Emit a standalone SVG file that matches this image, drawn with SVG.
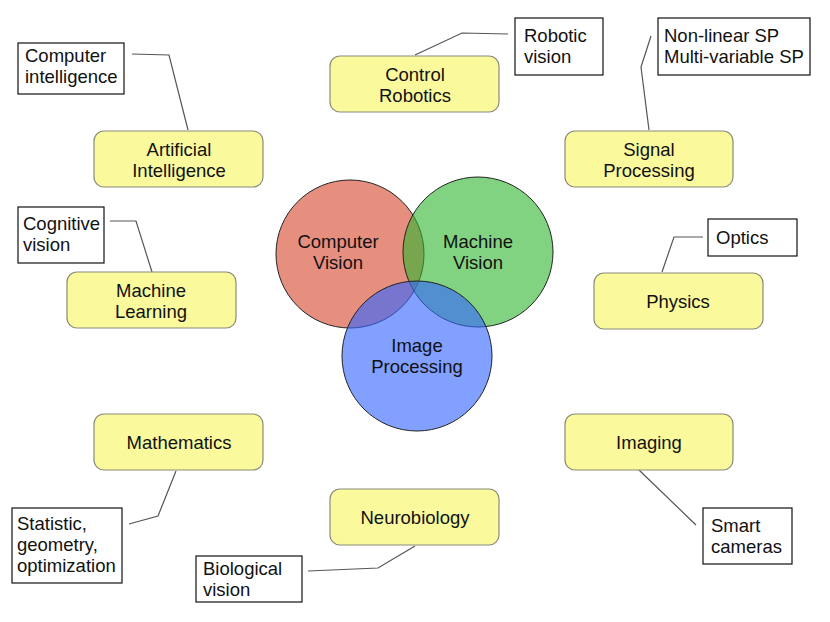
<svg xmlns="http://www.w3.org/2000/svg" width="830" height="622" viewBox="0 0 830 622">
<style>
text{font-family:"Liberation Sans",Arial,sans-serif;font-size:18.5px;fill:#111}
.c{text-anchor:middle}
.y{fill:#FAFA9C;stroke:#8a8a7a;stroke-width:1.2}
.w{fill:#fff;stroke:#111;stroke-width:1.2}
.ln{fill:none;stroke:#555;stroke-width:1.2}
.ci{stroke:#222;stroke-width:1}
</style>
<rect width="830" height="622" fill="#fff"/>
<g id="connectors">
<polyline class="ln" points="132,54 169,55 188,130"/>
<polyline class="ln" points="508,34 462,33 415,55"/>
<polyline class="ln" points="651,36 641,67 649,130"/>
<polyline class="ln" points="110,221 136,221 152,272"/>
<polyline class="ln" points="703,237 674,237 662,272"/>
<polyline class="ln" points="129,524 158,516 176,471"/>
<polyline class="ln" points="308,571 378,568 415,546"/>
<polyline class="ln" points="696,525 639,470"/>
</g>
<g id="venn">
<circle class="ci" cx="350" cy="254" r="74" fill="#D6442A" fill-opacity="0.6"/>
<circle class="ci" cx="478" cy="252" r="75" fill="#2DB52D" fill-opacity="0.6"/>
<circle class="ci" cx="417" cy="356" r="75" fill="#3366FF" fill-opacity="0.62"/>
<text class="c" x="338" y="248">Computer</text>
<text class="c" x="338" y="269">Vision</text>
<text class="c" x="478" y="248">Machine</text>
<text class="c" x="478" y="269">Vision</text>
<text class="c" x="417" y="352">Image</text>
<text class="c" x="417" y="373">Processing</text>
</g>
<g id="control-robotics"><rect class="y" x="330" y="56" width="169" height="56" rx="10"/><text class="c" x="415" y="81">Control</text><text class="c" x="415" y="102">Robotics</text></g>
<g id="artificial-intelligence"><rect class="y" x="94" y="131" width="169" height="56" rx="10"/><text class="c" x="179" y="156">Artificial</text><text class="c" x="179" y="177">Intelligence</text></g>
<g id="signal-processing"><rect class="y" x="565" y="131" width="168" height="56" rx="10"/><text class="c" x="649" y="156">Signal</text><text class="c" x="649" y="177">Processing</text></g>
<g id="machine-learning"><rect class="y" x="67" y="272" width="169" height="56" rx="10"/><text class="c" x="151" y="297">Machine</text><text class="c" x="151" y="318">Learning</text></g>
<g id="physics"><rect class="y" x="594" y="273" width="169" height="56" rx="10"/><text class="c" x="678" y="308">Physics</text></g>
<g id="mathematics"><rect class="y" x="94" y="414" width="169" height="56" rx="10"/><text class="c" x="179" y="449">Mathematics</text></g>
<g id="imaging"><rect class="y" x="565" y="414" width="168" height="56" rx="10"/><text class="c" x="649" y="449">Imaging</text></g>
<g id="neurobiology"><rect class="y" x="330" y="489" width="169" height="56" rx="10"/><text class="c" x="415" y="524">Neurobiology</text></g>
<g id="computer-intelligence"><rect class="w" x="18" y="43" width="106" height="51"/><text x="25" y="62">Computer</text><text x="25" y="83">intelligence</text></g>
<g id="robotic-vision"><rect class="w" x="515" y="18" width="88" height="57"/><text x="524" y="42">Robotic</text><text x="524" y="63">vision</text></g>
<g id="sp-variants"><rect class="w" x="658" y="18" width="152" height="57"/><text x="664" y="42">Non-linear SP</text><text x="664" y="63">Multi-variable SP</text></g>
<g id="cognitive-vision"><rect class="w" x="18" y="207" width="86" height="56"/><text x="23" y="230">Cognitive</text><text x="23" y="251">vision</text></g>
<g id="optics"><rect class="w" x="708" y="219" width="89" height="37"/><text x="716" y="244">Optics</text></g>
<g id="statistic"><rect class="w" x="12" y="508" width="110" height="75"/><text x="17" y="530">Statistic,</text><text x="17" y="551">geometry,</text><text x="17" y="572">optimization</text></g>
<g id="biological-vision"><rect class="w" x="196" y="556" width="106" height="46"/><text x="203" y="575">Biological</text><text x="203" y="596">vision</text></g>
<g id="smart-cameras"><rect class="w" x="703" y="508" width="89" height="56"/><text x="711" y="532">Smart</text><text x="711" y="553">cameras</text></g>
</svg>
